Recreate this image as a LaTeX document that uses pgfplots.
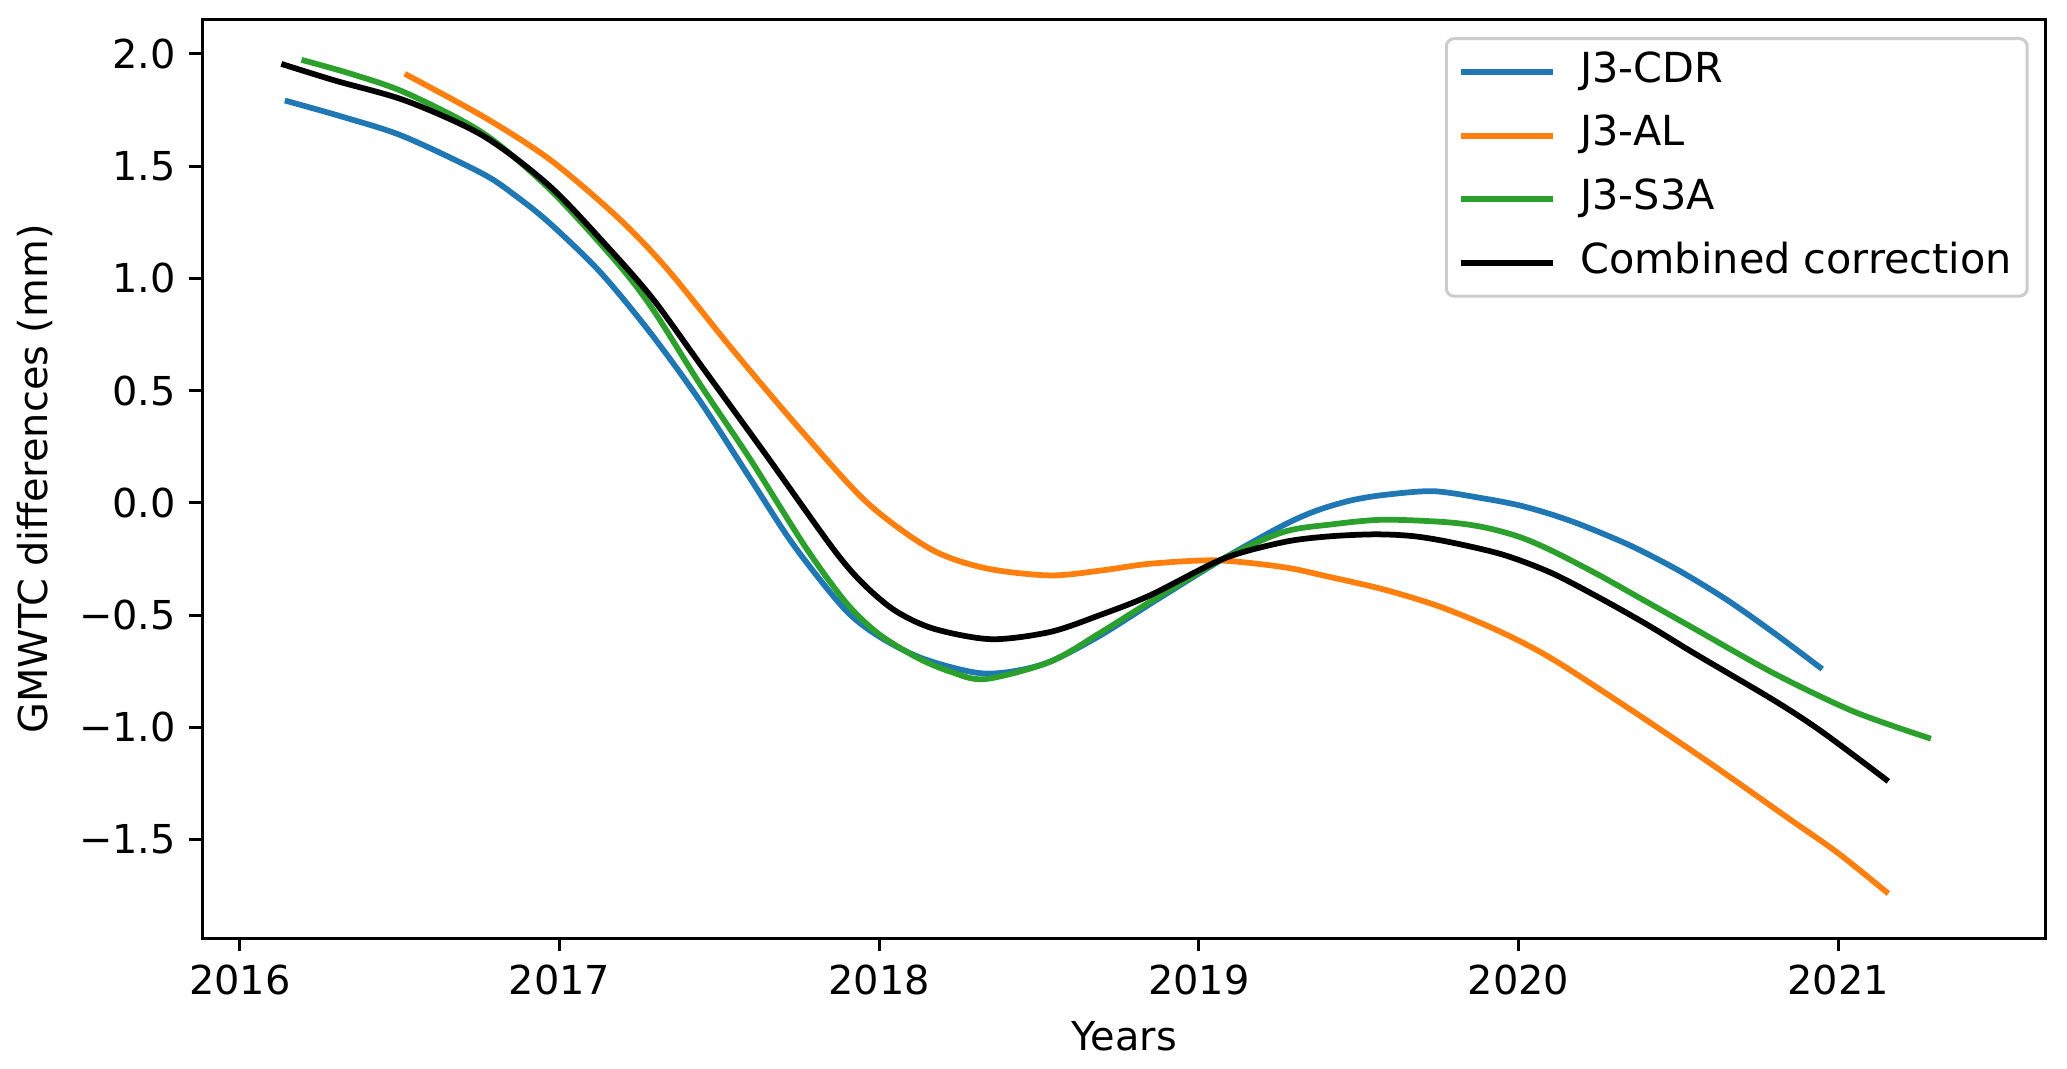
\documentclass[border=0pt]{standalone}
\usepackage{fontspec}
\setmainfont{DejaVu Sans}
\usepackage{pgfplots}
\pgfplotsset{compat=1.18}
\definecolor{tabblue}{HTML}{1F77B4}
\definecolor{taborange}{HTML}{FF7F0E}
\definecolor{tabgreen}{HTML}{2CA02C}

\begin{document}
\begin{tikzpicture}
\begin{axis}[
    scale only axis,
    width=481pt, height=239.6pt,
    xmin=2015.884, xmax=2021.65,
    ymin=-1.938, ymax=2.151,
    xtick={2016,2017,2018,2019,2020,2021},
    xticklabels={2016,2017,2018,2019,2020,2021},
    ytick={-1.5,-1,-0.5,0,0.5,1,1.5,2},
    yticklabels={−1.5,−1.0,−0.5,0.0,0.5,1.0,1.5,2.0},
    tick pos=left, tick align=outside,
    major tick length=3.5pt,
    every tick/.style={black, line width=0.8pt},
    axis line style={line width=0.8pt},
    tick label style={font=\fontsize{10.4}{12}\selectfont},
    label style={font=\fontsize{10.4}{12}\selectfont},
    xlabel={Years}, ylabel={GMWTC differences (mm)},
    legend style={at={(1,1)}, anchor=north east, xshift=-4.5pt, yshift=-4.5pt,
        draw=black!20, line width=0.8pt, rounded corners=2pt,
        fill=white, fill opacity=0.8, text opacity=1,
        font=\fontsize{10.8}{12}\selectfont, row sep=4.2pt,
        inner xsep=3pt, inner ysep=2.5pt,
        nodes={inner sep=1pt, text height=7.9pt, text depth=2.5pt},
        /tikz/every odd column/.style={column sep=5.5pt},
        cells={anchor=west}},
    legend image code/.code={\draw[#1] (0pt,0pt) -- (24pt,0pt);},
    every axis plot/.append style={line width=1.5pt, smooth, no markers},
]
% J3-CDR
\addplot[tabblue] coordinates {
(2016.141,1.792) (2016.32,1.72) (2016.511,1.633) (2016.761,1.465) (2016.87,1.36)
(2016.97,1.245) (2017.126,1.03) (2017.283,0.76) (2017.439,0.455) (2017.596,0.11)
(2017.731,-0.185) (2017.89,-0.47) (2018.0,-0.595) (2018.14,-0.695) (2018.33,-0.76)
(2018.51,-0.72) (2018.68,-0.60) (2018.87,-0.43) (2019.076,-0.249) (2019.264,-0.10)
(2019.369,-0.034) (2019.473,0.01) (2019.577,0.035) (2019.734,0.052) (2019.89,0.02)
(2020.0,-0.01) (2020.1,-0.05) (2020.2,-0.10) (2020.35,-0.19) (2020.5,-0.30)
(2020.65,-0.43) (2020.8,-0.58) (2020.95,-0.74)
};
% J3-AL
\addplot[taborange] coordinates {
(2016.516,1.911) (2016.761,1.721) (2016.97,1.529) (2017.178,1.277) (2017.335,1.045)
(2017.543,0.68) (2017.752,0.329) (2017.961,0.003) (2018.159,-0.204) (2018.33,-0.29)
(2018.534,-0.323) (2018.70,-0.30) (2018.847,-0.271) (2019.056,-0.256) (2019.264,-0.286)
(2019.41,-0.33) (2019.577,-0.385) (2019.75,-0.46) (2019.93,-0.565) (2020.1,-0.69)
(2020.35,-0.92) (2020.6,-1.16) (2020.85,-1.41) (2021.0,-1.56) (2021.157,-1.74)
};
% J3-S3A
\addplot[tabgreen] coordinates {
(2016.193,1.973) (2016.35,1.91) (2016.521,1.825) (2016.761,1.647) (2016.97,1.396)
(2017.18,1.07) (2017.293,0.86) (2017.439,0.53) (2017.596,0.196) (2017.773,-0.204)
(2017.90,-0.45) (2018.0,-0.585) (2018.12,-0.69) (2018.22,-0.75) (2018.33,-0.785)
(2018.534,-0.708) (2018.69,-0.58) (2018.847,-0.441) (2019.076,-0.249) (2019.264,-0.13)
(2019.42,-0.095) (2019.577,-0.075) (2019.775,-0.086) (2019.89,-0.108) (2020.0,-0.15)
(2020.1,-0.21) (2020.25,-0.32) (2020.4,-0.44) (2020.55,-0.56) (2020.8,-0.76)
(2021.05,-0.93) (2021.29,-1.05)
};
% Combined correction
\addplot[black] coordinates {
(2016.13,1.955) (2016.30,1.88) (2016.521,1.79) (2016.761,1.635) (2016.97,1.41)
(2017.157,1.13) (2017.293,0.907) (2017.439,0.62) (2017.648,0.21) (2017.856,-0.204)
(2017.95,-0.36) (2018.05,-0.48) (2018.17,-0.56) (2018.35,-0.607) (2018.534,-0.575)
(2018.69,-0.50) (2018.847,-0.412) (2019.076,-0.249) (2019.264,-0.175) (2019.40,-0.15)
(2019.55,-0.14) (2019.67,-0.148) (2019.786,-0.175) (2019.95,-0.23) (2020.1,-0.31)
(2020.25,-0.42) (2020.4,-0.54) (2020.55,-0.67) (2020.8,-0.88) (2020.95,-1.02)
(2021.157,-1.24)
};
\legend{J3-CDR,J3-AL,J3-S3A,Combined correction}
\end{axis}
\pgfresetboundingbox
\path[use as bounding box] ([xshift=-52.9pt,yshift=-34.1pt]current axis.south west)
    rectangle ([xshift=5.5pt,yshift=5.2pt]current axis.north east);
\end{tikzpicture}
\end{document}
